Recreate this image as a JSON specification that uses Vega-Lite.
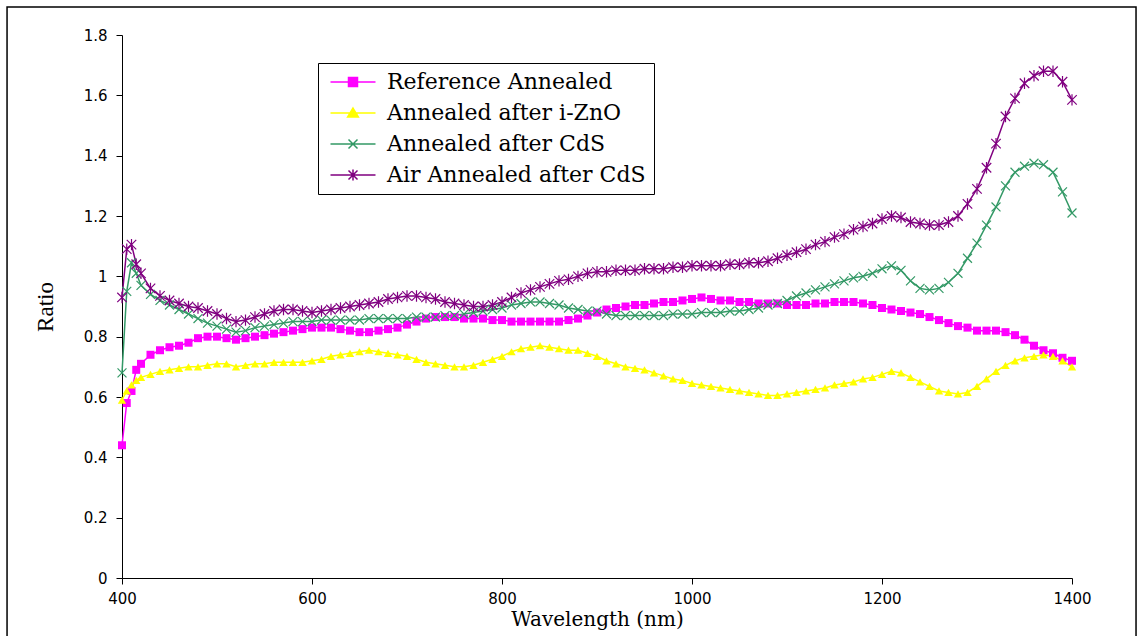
{
  "$schema": "https://vega.github.io/schema/vega-lite/v6.json",
  "width": 950,
  "height": 543,
  "padding": {"left": 6, "top": 6, "right": 0, "bottom": 0},
  "background": "white",
  "config": {
    "view": {"stroke": null},
    "axis": {"grid": false, "domainColor": "black", "tickColor": "black", "labelColor": "black", "titleColor": "black", "tickSize": 6, "domainWidth": 1, "tickWidth": 1, "labelFont": "DejaVu Sans", "labelFontSize": 15, "titleFontWeight": "normal", "labelFlush": false}
  },
  "datasets": {
    "spectra": [
{"wavelength":400,"series":"Reference Annealed","ratio":0.44},
{"wavelength":405,"series":"Reference Annealed","ratio":0.58},
{"wavelength":410,"series":"Reference Annealed","ratio":0.62},
{"wavelength":415,"series":"Reference Annealed","ratio":0.69},
{"wavelength":420,"series":"Reference Annealed","ratio":0.71},
{"wavelength":430,"series":"Reference Annealed","ratio":0.74},
{"wavelength":440,"series":"Reference Annealed","ratio":0.755},
{"wavelength":450,"series":"Reference Annealed","ratio":0.765},
{"wavelength":460,"series":"Reference Annealed","ratio":0.77},
{"wavelength":470,"series":"Reference Annealed","ratio":0.78},
{"wavelength":480,"series":"Reference Annealed","ratio":0.795},
{"wavelength":490,"series":"Reference Annealed","ratio":0.8},
{"wavelength":500,"series":"Reference Annealed","ratio":0.8},
{"wavelength":510,"series":"Reference Annealed","ratio":0.795},
{"wavelength":520,"series":"Reference Annealed","ratio":0.79},
{"wavelength":530,"series":"Reference Annealed","ratio":0.795},
{"wavelength":540,"series":"Reference Annealed","ratio":0.8},
{"wavelength":550,"series":"Reference Annealed","ratio":0.805},
{"wavelength":560,"series":"Reference Annealed","ratio":0.81},
{"wavelength":570,"series":"Reference Annealed","ratio":0.815},
{"wavelength":580,"series":"Reference Annealed","ratio":0.82},
{"wavelength":590,"series":"Reference Annealed","ratio":0.825},
{"wavelength":600,"series":"Reference Annealed","ratio":0.83},
{"wavelength":610,"series":"Reference Annealed","ratio":0.83},
{"wavelength":620,"series":"Reference Annealed","ratio":0.83},
{"wavelength":630,"series":"Reference Annealed","ratio":0.825},
{"wavelength":640,"series":"Reference Annealed","ratio":0.82},
{"wavelength":650,"series":"Reference Annealed","ratio":0.815},
{"wavelength":660,"series":"Reference Annealed","ratio":0.815},
{"wavelength":670,"series":"Reference Annealed","ratio":0.82},
{"wavelength":680,"series":"Reference Annealed","ratio":0.825},
{"wavelength":690,"series":"Reference Annealed","ratio":0.83},
{"wavelength":700,"series":"Reference Annealed","ratio":0.84},
{"wavelength":710,"series":"Reference Annealed","ratio":0.85},
{"wavelength":720,"series":"Reference Annealed","ratio":0.86},
{"wavelength":730,"series":"Reference Annealed","ratio":0.865},
{"wavelength":740,"series":"Reference Annealed","ratio":0.865},
{"wavelength":750,"series":"Reference Annealed","ratio":0.865},
{"wavelength":760,"series":"Reference Annealed","ratio":0.86},
{"wavelength":770,"series":"Reference Annealed","ratio":0.86},
{"wavelength":780,"series":"Reference Annealed","ratio":0.86},
{"wavelength":790,"series":"Reference Annealed","ratio":0.855},
{"wavelength":800,"series":"Reference Annealed","ratio":0.855},
{"wavelength":810,"series":"Reference Annealed","ratio":0.85},
{"wavelength":820,"series":"Reference Annealed","ratio":0.85},
{"wavelength":830,"series":"Reference Annealed","ratio":0.85},
{"wavelength":840,"series":"Reference Annealed","ratio":0.85},
{"wavelength":850,"series":"Reference Annealed","ratio":0.85},
{"wavelength":860,"series":"Reference Annealed","ratio":0.85},
{"wavelength":870,"series":"Reference Annealed","ratio":0.855},
{"wavelength":880,"series":"Reference Annealed","ratio":0.86},
{"wavelength":890,"series":"Reference Annealed","ratio":0.87},
{"wavelength":900,"series":"Reference Annealed","ratio":0.88},
{"wavelength":910,"series":"Reference Annealed","ratio":0.89},
{"wavelength":920,"series":"Reference Annealed","ratio":0.895},
{"wavelength":930,"series":"Reference Annealed","ratio":0.9},
{"wavelength":940,"series":"Reference Annealed","ratio":0.905},
{"wavelength":950,"series":"Reference Annealed","ratio":0.905},
{"wavelength":960,"series":"Reference Annealed","ratio":0.91},
{"wavelength":970,"series":"Reference Annealed","ratio":0.915},
{"wavelength":980,"series":"Reference Annealed","ratio":0.915},
{"wavelength":990,"series":"Reference Annealed","ratio":0.92},
{"wavelength":1000,"series":"Reference Annealed","ratio":0.925},
{"wavelength":1010,"series":"Reference Annealed","ratio":0.93},
{"wavelength":1020,"series":"Reference Annealed","ratio":0.925},
{"wavelength":1030,"series":"Reference Annealed","ratio":0.92},
{"wavelength":1040,"series":"Reference Annealed","ratio":0.92},
{"wavelength":1050,"series":"Reference Annealed","ratio":0.915},
{"wavelength":1060,"series":"Reference Annealed","ratio":0.915},
{"wavelength":1070,"series":"Reference Annealed","ratio":0.91},
{"wavelength":1080,"series":"Reference Annealed","ratio":0.91},
{"wavelength":1090,"series":"Reference Annealed","ratio":0.91},
{"wavelength":1100,"series":"Reference Annealed","ratio":0.905},
{"wavelength":1110,"series":"Reference Annealed","ratio":0.905},
{"wavelength":1120,"series":"Reference Annealed","ratio":0.905},
{"wavelength":1130,"series":"Reference Annealed","ratio":0.91},
{"wavelength":1140,"series":"Reference Annealed","ratio":0.91},
{"wavelength":1150,"series":"Reference Annealed","ratio":0.915},
{"wavelength":1160,"series":"Reference Annealed","ratio":0.915},
{"wavelength":1170,"series":"Reference Annealed","ratio":0.915},
{"wavelength":1180,"series":"Reference Annealed","ratio":0.91},
{"wavelength":1190,"series":"Reference Annealed","ratio":0.905},
{"wavelength":1200,"series":"Reference Annealed","ratio":0.895},
{"wavelength":1210,"series":"Reference Annealed","ratio":0.89},
{"wavelength":1220,"series":"Reference Annealed","ratio":0.885},
{"wavelength":1230,"series":"Reference Annealed","ratio":0.88},
{"wavelength":1240,"series":"Reference Annealed","ratio":0.875},
{"wavelength":1250,"series":"Reference Annealed","ratio":0.865},
{"wavelength":1260,"series":"Reference Annealed","ratio":0.855},
{"wavelength":1270,"series":"Reference Annealed","ratio":0.845},
{"wavelength":1280,"series":"Reference Annealed","ratio":0.835},
{"wavelength":1290,"series":"Reference Annealed","ratio":0.83},
{"wavelength":1300,"series":"Reference Annealed","ratio":0.82},
{"wavelength":1310,"series":"Reference Annealed","ratio":0.82},
{"wavelength":1320,"series":"Reference Annealed","ratio":0.82},
{"wavelength":1330,"series":"Reference Annealed","ratio":0.815},
{"wavelength":1340,"series":"Reference Annealed","ratio":0.805},
{"wavelength":1350,"series":"Reference Annealed","ratio":0.79},
{"wavelength":1360,"series":"Reference Annealed","ratio":0.77},
{"wavelength":1370,"series":"Reference Annealed","ratio":0.755},
{"wavelength":1380,"series":"Reference Annealed","ratio":0.745},
{"wavelength":1390,"series":"Reference Annealed","ratio":0.73},
{"wavelength":1400,"series":"Reference Annealed","ratio":0.72},
{"wavelength":400,"series":"Annealed after i-ZnO","ratio":0.59},
{"wavelength":405,"series":"Annealed after i-ZnO","ratio":0.62},
{"wavelength":410,"series":"Annealed after i-ZnO","ratio":0.64},
{"wavelength":415,"series":"Annealed after i-ZnO","ratio":0.655},
{"wavelength":420,"series":"Annealed after i-ZnO","ratio":0.665},
{"wavelength":430,"series":"Annealed after i-ZnO","ratio":0.675},
{"wavelength":440,"series":"Annealed after i-ZnO","ratio":0.685},
{"wavelength":450,"series":"Annealed after i-ZnO","ratio":0.69},
{"wavelength":460,"series":"Annealed after i-ZnO","ratio":0.695},
{"wavelength":470,"series":"Annealed after i-ZnO","ratio":0.7},
{"wavelength":480,"series":"Annealed after i-ZnO","ratio":0.7},
{"wavelength":490,"series":"Annealed after i-ZnO","ratio":0.705},
{"wavelength":500,"series":"Annealed after i-ZnO","ratio":0.71},
{"wavelength":510,"series":"Annealed after i-ZnO","ratio":0.71},
{"wavelength":520,"series":"Annealed after i-ZnO","ratio":0.7},
{"wavelength":530,"series":"Annealed after i-ZnO","ratio":0.705},
{"wavelength":540,"series":"Annealed after i-ZnO","ratio":0.71},
{"wavelength":550,"series":"Annealed after i-ZnO","ratio":0.71},
{"wavelength":560,"series":"Annealed after i-ZnO","ratio":0.715},
{"wavelength":570,"series":"Annealed after i-ZnO","ratio":0.715},
{"wavelength":580,"series":"Annealed after i-ZnO","ratio":0.715},
{"wavelength":590,"series":"Annealed after i-ZnO","ratio":0.715},
{"wavelength":600,"series":"Annealed after i-ZnO","ratio":0.72},
{"wavelength":610,"series":"Annealed after i-ZnO","ratio":0.725},
{"wavelength":620,"series":"Annealed after i-ZnO","ratio":0.735},
{"wavelength":630,"series":"Annealed after i-ZnO","ratio":0.74},
{"wavelength":640,"series":"Annealed after i-ZnO","ratio":0.745},
{"wavelength":650,"series":"Annealed after i-ZnO","ratio":0.75},
{"wavelength":660,"series":"Annealed after i-ZnO","ratio":0.755},
{"wavelength":670,"series":"Annealed after i-ZnO","ratio":0.75},
{"wavelength":680,"series":"Annealed after i-ZnO","ratio":0.745},
{"wavelength":690,"series":"Annealed after i-ZnO","ratio":0.74},
{"wavelength":700,"series":"Annealed after i-ZnO","ratio":0.735},
{"wavelength":710,"series":"Annealed after i-ZnO","ratio":0.725},
{"wavelength":720,"series":"Annealed after i-ZnO","ratio":0.715},
{"wavelength":730,"series":"Annealed after i-ZnO","ratio":0.71},
{"wavelength":740,"series":"Annealed after i-ZnO","ratio":0.705},
{"wavelength":750,"series":"Annealed after i-ZnO","ratio":0.7},
{"wavelength":760,"series":"Annealed after i-ZnO","ratio":0.7},
{"wavelength":770,"series":"Annealed after i-ZnO","ratio":0.705},
{"wavelength":780,"series":"Annealed after i-ZnO","ratio":0.715},
{"wavelength":790,"series":"Annealed after i-ZnO","ratio":0.725},
{"wavelength":800,"series":"Annealed after i-ZnO","ratio":0.735},
{"wavelength":810,"series":"Annealed after i-ZnO","ratio":0.75},
{"wavelength":820,"series":"Annealed after i-ZnO","ratio":0.76},
{"wavelength":830,"series":"Annealed after i-ZnO","ratio":0.765},
{"wavelength":840,"series":"Annealed after i-ZnO","ratio":0.77},
{"wavelength":850,"series":"Annealed after i-ZnO","ratio":0.765},
{"wavelength":860,"series":"Annealed after i-ZnO","ratio":0.76},
{"wavelength":870,"series":"Annealed after i-ZnO","ratio":0.755},
{"wavelength":880,"series":"Annealed after i-ZnO","ratio":0.755},
{"wavelength":890,"series":"Annealed after i-ZnO","ratio":0.745},
{"wavelength":900,"series":"Annealed after i-ZnO","ratio":0.735},
{"wavelength":910,"series":"Annealed after i-ZnO","ratio":0.72},
{"wavelength":920,"series":"Annealed after i-ZnO","ratio":0.71},
{"wavelength":930,"series":"Annealed after i-ZnO","ratio":0.7},
{"wavelength":940,"series":"Annealed after i-ZnO","ratio":0.695},
{"wavelength":950,"series":"Annealed after i-ZnO","ratio":0.69},
{"wavelength":960,"series":"Annealed after i-ZnO","ratio":0.68},
{"wavelength":970,"series":"Annealed after i-ZnO","ratio":0.67},
{"wavelength":980,"series":"Annealed after i-ZnO","ratio":0.66},
{"wavelength":990,"series":"Annealed after i-ZnO","ratio":0.655},
{"wavelength":1000,"series":"Annealed after i-ZnO","ratio":0.645},
{"wavelength":1010,"series":"Annealed after i-ZnO","ratio":0.64},
{"wavelength":1020,"series":"Annealed after i-ZnO","ratio":0.635},
{"wavelength":1030,"series":"Annealed after i-ZnO","ratio":0.63},
{"wavelength":1040,"series":"Annealed after i-ZnO","ratio":0.625},
{"wavelength":1050,"series":"Annealed after i-ZnO","ratio":0.62},
{"wavelength":1060,"series":"Annealed after i-ZnO","ratio":0.615},
{"wavelength":1070,"series":"Annealed after i-ZnO","ratio":0.61},
{"wavelength":1080,"series":"Annealed after i-ZnO","ratio":0.605},
{"wavelength":1090,"series":"Annealed after i-ZnO","ratio":0.605},
{"wavelength":1100,"series":"Annealed after i-ZnO","ratio":0.61},
{"wavelength":1110,"series":"Annealed after i-ZnO","ratio":0.615},
{"wavelength":1120,"series":"Annealed after i-ZnO","ratio":0.62},
{"wavelength":1130,"series":"Annealed after i-ZnO","ratio":0.625},
{"wavelength":1140,"series":"Annealed after i-ZnO","ratio":0.63},
{"wavelength":1150,"series":"Annealed after i-ZnO","ratio":0.64},
{"wavelength":1160,"series":"Annealed after i-ZnO","ratio":0.645},
{"wavelength":1170,"series":"Annealed after i-ZnO","ratio":0.65},
{"wavelength":1180,"series":"Annealed after i-ZnO","ratio":0.66},
{"wavelength":1190,"series":"Annealed after i-ZnO","ratio":0.665},
{"wavelength":1200,"series":"Annealed after i-ZnO","ratio":0.675},
{"wavelength":1210,"series":"Annealed after i-ZnO","ratio":0.685},
{"wavelength":1220,"series":"Annealed after i-ZnO","ratio":0.68},
{"wavelength":1230,"series":"Annealed after i-ZnO","ratio":0.665},
{"wavelength":1240,"series":"Annealed after i-ZnO","ratio":0.65},
{"wavelength":1250,"series":"Annealed after i-ZnO","ratio":0.635},
{"wavelength":1260,"series":"Annealed after i-ZnO","ratio":0.62},
{"wavelength":1270,"series":"Annealed after i-ZnO","ratio":0.615},
{"wavelength":1280,"series":"Annealed after i-ZnO","ratio":0.61},
{"wavelength":1290,"series":"Annealed after i-ZnO","ratio":0.615},
{"wavelength":1300,"series":"Annealed after i-ZnO","ratio":0.635},
{"wavelength":1310,"series":"Annealed after i-ZnO","ratio":0.66},
{"wavelength":1320,"series":"Annealed after i-ZnO","ratio":0.685},
{"wavelength":1330,"series":"Annealed after i-ZnO","ratio":0.705},
{"wavelength":1340,"series":"Annealed after i-ZnO","ratio":0.72},
{"wavelength":1350,"series":"Annealed after i-ZnO","ratio":0.73},
{"wavelength":1360,"series":"Annealed after i-ZnO","ratio":0.735},
{"wavelength":1370,"series":"Annealed after i-ZnO","ratio":0.74},
{"wavelength":1380,"series":"Annealed after i-ZnO","ratio":0.735},
{"wavelength":1390,"series":"Annealed after i-ZnO","ratio":0.72},
{"wavelength":1400,"series":"Annealed after i-ZnO","ratio":0.7},
{"wavelength":400,"series":"Annealed after CdS","ratio":0.68},
{"wavelength":405,"series":"Annealed after CdS","ratio":0.95},
{"wavelength":410,"series":"Annealed after CdS","ratio":1.045},
{"wavelength":415,"series":"Annealed after CdS","ratio":1.01},
{"wavelength":420,"series":"Annealed after CdS","ratio":0.97},
{"wavelength":430,"series":"Annealed after CdS","ratio":0.94},
{"wavelength":440,"series":"Annealed after CdS","ratio":0.92},
{"wavelength":450,"series":"Annealed after CdS","ratio":0.905},
{"wavelength":460,"series":"Annealed after CdS","ratio":0.89},
{"wavelength":470,"series":"Annealed after CdS","ratio":0.875},
{"wavelength":480,"series":"Annealed after CdS","ratio":0.86},
{"wavelength":490,"series":"Annealed after CdS","ratio":0.845},
{"wavelength":500,"series":"Annealed after CdS","ratio":0.835},
{"wavelength":510,"series":"Annealed after CdS","ratio":0.825},
{"wavelength":520,"series":"Annealed after CdS","ratio":0.815},
{"wavelength":530,"series":"Annealed after CdS","ratio":0.82},
{"wavelength":540,"series":"Annealed after CdS","ratio":0.83},
{"wavelength":550,"series":"Annealed after CdS","ratio":0.835},
{"wavelength":560,"series":"Annealed after CdS","ratio":0.84},
{"wavelength":570,"series":"Annealed after CdS","ratio":0.845},
{"wavelength":580,"series":"Annealed after CdS","ratio":0.85},
{"wavelength":590,"series":"Annealed after CdS","ratio":0.85},
{"wavelength":600,"series":"Annealed after CdS","ratio":0.85},
{"wavelength":610,"series":"Annealed after CdS","ratio":0.855},
{"wavelength":620,"series":"Annealed after CdS","ratio":0.855},
{"wavelength":630,"series":"Annealed after CdS","ratio":0.855},
{"wavelength":640,"series":"Annealed after CdS","ratio":0.855},
{"wavelength":650,"series":"Annealed after CdS","ratio":0.855},
{"wavelength":660,"series":"Annealed after CdS","ratio":0.86},
{"wavelength":670,"series":"Annealed after CdS","ratio":0.86},
{"wavelength":680,"series":"Annealed after CdS","ratio":0.86},
{"wavelength":690,"series":"Annealed after CdS","ratio":0.86},
{"wavelength":700,"series":"Annealed after CdS","ratio":0.86},
{"wavelength":710,"series":"Annealed after CdS","ratio":0.865},
{"wavelength":720,"series":"Annealed after CdS","ratio":0.865},
{"wavelength":730,"series":"Annealed after CdS","ratio":0.865},
{"wavelength":740,"series":"Annealed after CdS","ratio":0.87},
{"wavelength":750,"series":"Annealed after CdS","ratio":0.87},
{"wavelength":760,"series":"Annealed after CdS","ratio":0.875},
{"wavelength":770,"series":"Annealed after CdS","ratio":0.88},
{"wavelength":780,"series":"Annealed after CdS","ratio":0.885},
{"wavelength":790,"series":"Annealed after CdS","ratio":0.89},
{"wavelength":800,"series":"Annealed after CdS","ratio":0.895},
{"wavelength":810,"series":"Annealed after CdS","ratio":0.905},
{"wavelength":820,"series":"Annealed after CdS","ratio":0.91},
{"wavelength":830,"series":"Annealed after CdS","ratio":0.915},
{"wavelength":840,"series":"Annealed after CdS","ratio":0.915},
{"wavelength":850,"series":"Annealed after CdS","ratio":0.91},
{"wavelength":860,"series":"Annealed after CdS","ratio":0.905},
{"wavelength":870,"series":"Annealed after CdS","ratio":0.895},
{"wavelength":880,"series":"Annealed after CdS","ratio":0.89},
{"wavelength":890,"series":"Annealed after CdS","ratio":0.885},
{"wavelength":900,"series":"Annealed after CdS","ratio":0.885},
{"wavelength":910,"series":"Annealed after CdS","ratio":0.875},
{"wavelength":920,"series":"Annealed after CdS","ratio":0.87},
{"wavelength":930,"series":"Annealed after CdS","ratio":0.87},
{"wavelength":940,"series":"Annealed after CdS","ratio":0.87},
{"wavelength":950,"series":"Annealed after CdS","ratio":0.87},
{"wavelength":960,"series":"Annealed after CdS","ratio":0.87},
{"wavelength":970,"series":"Annealed after CdS","ratio":0.87},
{"wavelength":980,"series":"Annealed after CdS","ratio":0.875},
{"wavelength":990,"series":"Annealed after CdS","ratio":0.875},
{"wavelength":1000,"series":"Annealed after CdS","ratio":0.875},
{"wavelength":1010,"series":"Annealed after CdS","ratio":0.88},
{"wavelength":1020,"series":"Annealed after CdS","ratio":0.88},
{"wavelength":1030,"series":"Annealed after CdS","ratio":0.88},
{"wavelength":1040,"series":"Annealed after CdS","ratio":0.885},
{"wavelength":1050,"series":"Annealed after CdS","ratio":0.885},
{"wavelength":1060,"series":"Annealed after CdS","ratio":0.89},
{"wavelength":1070,"series":"Annealed after CdS","ratio":0.895},
{"wavelength":1080,"series":"Annealed after CdS","ratio":0.905},
{"wavelength":1090,"series":"Annealed after CdS","ratio":0.91},
{"wavelength":1100,"series":"Annealed after CdS","ratio":0.92},
{"wavelength":1110,"series":"Annealed after CdS","ratio":0.935},
{"wavelength":1120,"series":"Annealed after CdS","ratio":0.945},
{"wavelength":1130,"series":"Annealed after CdS","ratio":0.955},
{"wavelength":1140,"series":"Annealed after CdS","ratio":0.965},
{"wavelength":1150,"series":"Annealed after CdS","ratio":0.975},
{"wavelength":1160,"series":"Annealed after CdS","ratio":0.985},
{"wavelength":1170,"series":"Annealed after CdS","ratio":0.995},
{"wavelength":1180,"series":"Annealed after CdS","ratio":1.0},
{"wavelength":1190,"series":"Annealed after CdS","ratio":1.01},
{"wavelength":1200,"series":"Annealed after CdS","ratio":1.025},
{"wavelength":1210,"series":"Annealed after CdS","ratio":1.035},
{"wavelength":1220,"series":"Annealed after CdS","ratio":1.02},
{"wavelength":1230,"series":"Annealed after CdS","ratio":0.985},
{"wavelength":1240,"series":"Annealed after CdS","ratio":0.96},
{"wavelength":1250,"series":"Annealed after CdS","ratio":0.955},
{"wavelength":1260,"series":"Annealed after CdS","ratio":0.96},
{"wavelength":1270,"series":"Annealed after CdS","ratio":0.98},
{"wavelength":1280,"series":"Annealed after CdS","ratio":1.01},
{"wavelength":1290,"series":"Annealed after CdS","ratio":1.06},
{"wavelength":1300,"series":"Annealed after CdS","ratio":1.11},
{"wavelength":1310,"series":"Annealed after CdS","ratio":1.17},
{"wavelength":1320,"series":"Annealed after CdS","ratio":1.23},
{"wavelength":1330,"series":"Annealed after CdS","ratio":1.3},
{"wavelength":1340,"series":"Annealed after CdS","ratio":1.345},
{"wavelength":1350,"series":"Annealed after CdS","ratio":1.365},
{"wavelength":1360,"series":"Annealed after CdS","ratio":1.375},
{"wavelength":1370,"series":"Annealed after CdS","ratio":1.37},
{"wavelength":1380,"series":"Annealed after CdS","ratio":1.345},
{"wavelength":1390,"series":"Annealed after CdS","ratio":1.28},
{"wavelength":1400,"series":"Annealed after CdS","ratio":1.21},
{"wavelength":400,"series":"Air Annealed after CdS","ratio":0.93},
{"wavelength":405,"series":"Air Annealed after CdS","ratio":1.09},
{"wavelength":410,"series":"Air Annealed after CdS","ratio":1.105},
{"wavelength":415,"series":"Air Annealed after CdS","ratio":1.04},
{"wavelength":420,"series":"Air Annealed after CdS","ratio":1.01},
{"wavelength":430,"series":"Air Annealed after CdS","ratio":0.96},
{"wavelength":440,"series":"Air Annealed after CdS","ratio":0.935},
{"wavelength":450,"series":"Air Annealed after CdS","ratio":0.92},
{"wavelength":460,"series":"Air Annealed after CdS","ratio":0.91},
{"wavelength":470,"series":"Air Annealed after CdS","ratio":0.9},
{"wavelength":480,"series":"Air Annealed after CdS","ratio":0.895},
{"wavelength":490,"series":"Air Annealed after CdS","ratio":0.885},
{"wavelength":500,"series":"Air Annealed after CdS","ratio":0.875},
{"wavelength":510,"series":"Air Annealed after CdS","ratio":0.86},
{"wavelength":520,"series":"Air Annealed after CdS","ratio":0.85},
{"wavelength":530,"series":"Air Annealed after CdS","ratio":0.855},
{"wavelength":540,"series":"Air Annealed after CdS","ratio":0.865},
{"wavelength":550,"series":"Air Annealed after CdS","ratio":0.875},
{"wavelength":560,"series":"Air Annealed after CdS","ratio":0.885},
{"wavelength":570,"series":"Air Annealed after CdS","ratio":0.89},
{"wavelength":580,"series":"Air Annealed after CdS","ratio":0.89},
{"wavelength":590,"series":"Air Annealed after CdS","ratio":0.885},
{"wavelength":600,"series":"Air Annealed after CdS","ratio":0.88},
{"wavelength":610,"series":"Air Annealed after CdS","ratio":0.885},
{"wavelength":620,"series":"Air Annealed after CdS","ratio":0.89},
{"wavelength":630,"series":"Air Annealed after CdS","ratio":0.895},
{"wavelength":640,"series":"Air Annealed after CdS","ratio":0.9},
{"wavelength":650,"series":"Air Annealed after CdS","ratio":0.905},
{"wavelength":660,"series":"Air Annealed after CdS","ratio":0.91},
{"wavelength":670,"series":"Air Annealed after CdS","ratio":0.915},
{"wavelength":680,"series":"Air Annealed after CdS","ratio":0.925},
{"wavelength":690,"series":"Air Annealed after CdS","ratio":0.93},
{"wavelength":700,"series":"Air Annealed after CdS","ratio":0.935},
{"wavelength":710,"series":"Air Annealed after CdS","ratio":0.935},
{"wavelength":720,"series":"Air Annealed after CdS","ratio":0.93},
{"wavelength":730,"series":"Air Annealed after CdS","ratio":0.925},
{"wavelength":740,"series":"Air Annealed after CdS","ratio":0.915},
{"wavelength":750,"series":"Air Annealed after CdS","ratio":0.91},
{"wavelength":760,"series":"Air Annealed after CdS","ratio":0.905},
{"wavelength":770,"series":"Air Annealed after CdS","ratio":0.9},
{"wavelength":780,"series":"Air Annealed after CdS","ratio":0.9},
{"wavelength":790,"series":"Air Annealed after CdS","ratio":0.905},
{"wavelength":800,"series":"Air Annealed after CdS","ratio":0.915},
{"wavelength":810,"series":"Air Annealed after CdS","ratio":0.93},
{"wavelength":820,"series":"Air Annealed after CdS","ratio":0.945},
{"wavelength":830,"series":"Air Annealed after CdS","ratio":0.955},
{"wavelength":840,"series":"Air Annealed after CdS","ratio":0.965},
{"wavelength":850,"series":"Air Annealed after CdS","ratio":0.975},
{"wavelength":860,"series":"Air Annealed after CdS","ratio":0.985},
{"wavelength":870,"series":"Air Annealed after CdS","ratio":0.99},
{"wavelength":880,"series":"Air Annealed after CdS","ratio":1.0},
{"wavelength":890,"series":"Air Annealed after CdS","ratio":1.01},
{"wavelength":900,"series":"Air Annealed after CdS","ratio":1.015},
{"wavelength":910,"series":"Air Annealed after CdS","ratio":1.015},
{"wavelength":920,"series":"Air Annealed after CdS","ratio":1.02},
{"wavelength":930,"series":"Air Annealed after CdS","ratio":1.02},
{"wavelength":940,"series":"Air Annealed after CdS","ratio":1.02},
{"wavelength":950,"series":"Air Annealed after CdS","ratio":1.025},
{"wavelength":960,"series":"Air Annealed after CdS","ratio":1.025},
{"wavelength":970,"series":"Air Annealed after CdS","ratio":1.025},
{"wavelength":980,"series":"Air Annealed after CdS","ratio":1.03},
{"wavelength":990,"series":"Air Annealed after CdS","ratio":1.03},
{"wavelength":1000,"series":"Air Annealed after CdS","ratio":1.035},
{"wavelength":1010,"series":"Air Annealed after CdS","ratio":1.035},
{"wavelength":1020,"series":"Air Annealed after CdS","ratio":1.035},
{"wavelength":1030,"series":"Air Annealed after CdS","ratio":1.035},
{"wavelength":1040,"series":"Air Annealed after CdS","ratio":1.04},
{"wavelength":1050,"series":"Air Annealed after CdS","ratio":1.04},
{"wavelength":1060,"series":"Air Annealed after CdS","ratio":1.045},
{"wavelength":1070,"series":"Air Annealed after CdS","ratio":1.045},
{"wavelength":1080,"series":"Air Annealed after CdS","ratio":1.05},
{"wavelength":1090,"series":"Air Annealed after CdS","ratio":1.06},
{"wavelength":1100,"series":"Air Annealed after CdS","ratio":1.07},
{"wavelength":1110,"series":"Air Annealed after CdS","ratio":1.08},
{"wavelength":1120,"series":"Air Annealed after CdS","ratio":1.09},
{"wavelength":1130,"series":"Air Annealed after CdS","ratio":1.105},
{"wavelength":1140,"series":"Air Annealed after CdS","ratio":1.115},
{"wavelength":1150,"series":"Air Annealed after CdS","ratio":1.13},
{"wavelength":1160,"series":"Air Annealed after CdS","ratio":1.14},
{"wavelength":1170,"series":"Air Annealed after CdS","ratio":1.155},
{"wavelength":1180,"series":"Air Annealed after CdS","ratio":1.165},
{"wavelength":1190,"series":"Air Annealed after CdS","ratio":1.175},
{"wavelength":1200,"series":"Air Annealed after CdS","ratio":1.19},
{"wavelength":1210,"series":"Air Annealed after CdS","ratio":1.2},
{"wavelength":1220,"series":"Air Annealed after CdS","ratio":1.195},
{"wavelength":1230,"series":"Air Annealed after CdS","ratio":1.18},
{"wavelength":1240,"series":"Air Annealed after CdS","ratio":1.175},
{"wavelength":1250,"series":"Air Annealed after CdS","ratio":1.17},
{"wavelength":1260,"series":"Air Annealed after CdS","ratio":1.17},
{"wavelength":1270,"series":"Air Annealed after CdS","ratio":1.18},
{"wavelength":1280,"series":"Air Annealed after CdS","ratio":1.2},
{"wavelength":1290,"series":"Air Annealed after CdS","ratio":1.24},
{"wavelength":1300,"series":"Air Annealed after CdS","ratio":1.29},
{"wavelength":1310,"series":"Air Annealed after CdS","ratio":1.36},
{"wavelength":1320,"series":"Air Annealed after CdS","ratio":1.44},
{"wavelength":1330,"series":"Air Annealed after CdS","ratio":1.53},
{"wavelength":1340,"series":"Air Annealed after CdS","ratio":1.59},
{"wavelength":1350,"series":"Air Annealed after CdS","ratio":1.64},
{"wavelength":1360,"series":"Air Annealed after CdS","ratio":1.665},
{"wavelength":1370,"series":"Air Annealed after CdS","ratio":1.68},
{"wavelength":1380,"series":"Air Annealed after CdS","ratio":1.68},
{"wavelength":1390,"series":"Air Annealed after CdS","ratio":1.645},
{"wavelength":1400,"series":"Air Annealed after CdS","ratio":1.585}
    ]
  },
  "layer": [
    {
      "data": {"values": [{}]},
      "mark": {"type": "rect", "fill": null, "fillOpacity": 0, "stroke": "black", "strokeWidth": 1.5, "clip": false},
      "encoding": {
        "x": {"datum": 279, "type": "quantitative", "scale": {"domain": [400, 1400], "nice": false, "zero": false}},
        "x2": {"datum": 1467.4},
        "y": {"datum": 1.8926, "type": "quantitative", "scale": {"domain": [0, 1.8], "nice": false, "zero": false}},
        "y2": {"datum": -0.25}
      }
    },
    {
      "data": {"name": "spectra"},
      "mark": {"type": "line", "strokeWidth": 1.5},
      "encoding": {
        "x": {"field": "wavelength", "type": "quantitative", "scale": {"domain": [400, 1400], "nice": false, "zero": false},
          "axis": {"values": [400, 600, 800, 1000, 1200, 1400], "format": "d", "title": "Wavelength (nm)", "titleFont": "DejaVu Serif", "titleFontSize": 20, "labelPadding": 7, "titlePadding": 3}},
        "y": {"field": "ratio", "type": "quantitative", "scale": {"domain": [0, 1.8], "nice": false, "zero": false},
          "axis": {"values": [0, 0.2, 0.4, 0.6, 0.8, 1, 1.2, 1.4, 1.6, 1.8], "format": "~g", "title": "Ratio", "titleFont": "Liberation Serif", "titleFontSize": 23, "labelPadding": 9, "titlePadding": 26}},
        "color": {"field": "series", "type": "nominal",
          "scale": {"domain": ["Reference Annealed", "Annealed after i-ZnO", "Annealed after CdS", "Air Annealed after CdS"], "range": ["#FF00FF", "#FFFF00", "#339966", "#800080"]},
          "legend": {
            "title": null, "orient": "none", "legendX": 196, "legendY": 28,
            "strokeColor": "black", "fillColor": "white", "padding": 8,
            "labelFont": "DejaVu Serif", "labelFontSize": 22, "labelColor": "black", "labelLimit": 0,
            "symbolSize": 324, "symbolOffset": 16, "labelOffset": 23, "rowPadding": 9, "symbolStrokeWidth": 1.5,
            "encode": {"symbols": {"update": {
              "shape": {"signal": "datum.value == 'Reference Annealed' ? 'M-2.5,0L2.5,0M-0.5,-0.5L0.5,-0.5L0.5,0.5L-0.5,0.5Z' : datum.value == 'Annealed after i-ZnO' ? 'M-2.5,0L2.5,0M0,-0.55L0.6,0.45L-0.6,0.45Z' : datum.value == 'Annealed after CdS' ? 'M-2.5,0L2.5,0M-0.5,-0.5L0.5,0.5M-0.5,0.5L0.5,-0.5' : 'M-2.5,0L2.5,0M-0.5,-0.5L0.5,0.5M-0.5,0.5L0.5,-0.5M0,-0.6L0,0.6'"},
              "fill": {"scale": "color", "field": "value"},
              "stroke": {"scale": "color", "field": "value"},
              "strokeWidth": {"value": 1.5},
              "opacity": {"value": 1}
            }}}
          }
        },
        "detail": {"field": "series"}
      }
    },
    {
      "data": {"name": "spectra"},
      "transform": [{"filter": "datum.series == 'Reference Annealed'"}],
      "mark": {"type": "point", "filled": true, "size": 64, "opacity": 1, "shape": "square"},
      "encoding": {
        "x": {"field": "wavelength", "type": "quantitative"},
        "y": {"field": "ratio", "type": "quantitative"},
        "color": {"field": "series", "type": "nominal"}
      }
    },
    {
      "data": {"name": "spectra"},
      "transform": [{"filter": "datum.series == 'Annealed after i-ZnO'"}],
      "mark": {"type": "point", "filled": true, "size": 70, "opacity": 1, "shape": "triangle-up"},
      "encoding": {
        "x": {"field": "wavelength", "type": "quantitative"},
        "y": {"field": "ratio", "type": "quantitative"},
        "color": {"field": "series", "type": "nominal"}
      }
    },
    {
      "data": {"name": "spectra"},
      "transform": [{"filter": "datum.series == 'Annealed after CdS'"}],
      "mark": {"type": "point", "filled": false, "size": 80, "strokeWidth": 1.2, "opacity": 1, "shape": "M-1,-1L1,1M-1,1L1,-1"},
      "encoding": {
        "x": {"field": "wavelength", "type": "quantitative"},
        "y": {"field": "ratio", "type": "quantitative"},
        "color": {"field": "series", "type": "nominal"}
      }
    },
    {
      "data": {"name": "spectra"},
      "transform": [{"filter": "datum.series == 'Air Annealed after CdS'"}],
      "mark": {"type": "point", "filled": false, "size": 90, "strokeWidth": 1.2, "opacity": 1, "shape": "M-1,-1L1,1M-1,1L1,-1M0,-1.2L0,1.2"},
      "encoding": {
        "x": {"field": "wavelength", "type": "quantitative"},
        "y": {"field": "ratio", "type": "quantitative"},
        "color": {"field": "series", "type": "nominal"}
      }
    }
  ]
}
